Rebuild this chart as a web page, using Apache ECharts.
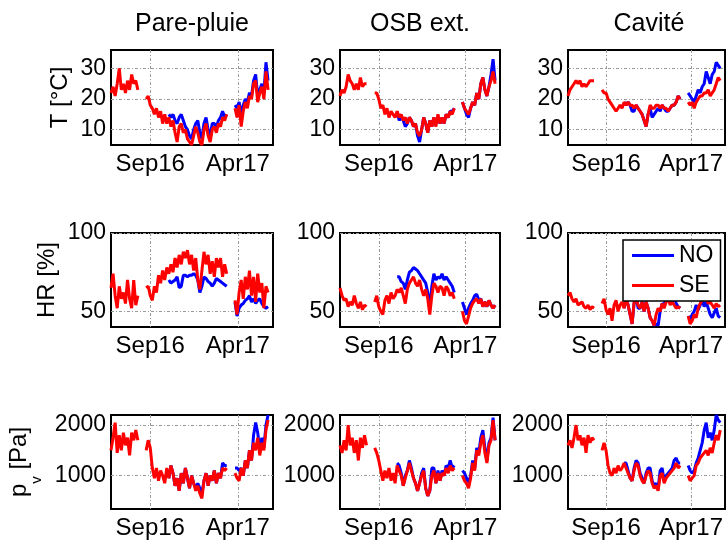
<!DOCTYPE html>
<html>
<head>
<meta charset="utf-8">
<script src="https://cdn.jsdelivr.net/npm/echarts@6/dist/echarts.min.js"></script>
<style>
html,body{margin:0;padding:0;background:#fff;}
#chart{width:726px;height:540px;}
</style>
</head>
<body>
<div id="chart"></div>
<script>
const _ = null;
// samples every 5 days, first one 95 days before 1 Sep 2016
const DAY_START = -95;
const DAY_STEP = 5;
const N_SAMPLES = 78;
const xTickDays = [0, 212];
const xTickLabels = ['Sep16', 'Apr17'];
const columnTitles = ['Pare-pluie', 'OSB ext.', 'Cavité'];
const seriesNames = ['NO', 'SE'];
const yTicksT = [10, 20, 30];
const yTicksHR = [50, 100];
const yTicksPv = [1000, 2000];
const yRangeT = [5, 36];
const yRangeHR = [40, 100];
const yRangePv = [340, 2200];

// ---- Temperature [°C]
const T_PP_SE = [22,24,21,25,30,23,25,22,26,23,28,25,26,23,_,_,_,20,21,18,17,15,17,14,16,12,15,12,14,11,13,9,6,11,12,9,10,7,6,5,8,11,9,6,5,10,12,8,6,10,11,9,12,11,14,13,15,_,_,_,17,14,18,11,16,19,17,21,20,25,26,19,22,24,20,29,23,_];
const T_PP_NO = [_,_,_,_,_,_,_,_,_,_,_,_,_,_,_,_,_,_,_,_,_,_,_,_,_,_,_,_,15,14,15,13,12,14,15,13,11,10,8,7,10,12,13,9,7,12,14,10,8,12,12,11,13,14,16,14,15,_,_,_,18,17,19,15,18,20,19,22,21,26,28,21,23,25,22,32,26,_];
const T_OSB_SE = [21,23,22,24,28,26,25,23,25,23,27,24,25,25,_,_,_,22,22,20,17,18,15,17,14,16,15,14,16,14,15,13,14,12,14,13,11,12,9,8,10,14,12,9,13,11,14,11,15,12,14,12,15,14,16,15,17,_,_,_,19,17,16,15,17,19,18,22,20,25,27,23,21,24,26,29,25,_];
const T_OSB_NO = [_,_,_,_,_,_,_,_,_,_,_,_,_,_,_,_,_,_,_,_,_,_,_,_,_,_,_,_,16,13,14,13,11,12,14,13,11,12,8,6,10,14,12,9,13,11,14,12,14,12,14,12,15,14,16,16,17,_,_,_,19,17,15,14,17,19,18,22,20,25,27,23,21,24,28,33,26,_];
const T_CAV_SE = [21,23,24,25,26,25,26,24,25,24,25,26,26,26,_,_,_,23,22,22,20,19,18,17,16,17,18,17,19,18,19,18,18,17,18,17,16,15,13,11,15,18,17,17,18,18,17,18,17,17,16,17,18,18,19,21,20,_,_,_,19,18,19,17,19,20,21,21,22,22,23,21,22,23,25,27,26,_];
const T_CAV_NO = [_,_,_,_,_,_,_,_,_,_,_,_,_,_,_,_,_,_,_,_,_,_,_,_,_,_,_,_,19,18,19,18,16,16,18,17,16,15,13,11,15,17,14,15,16,17,16,18,17,16,16,17,18,18,19,21,20,_,_,_,22,21,20,19,21,23,22,24,25,29,27,25,28,29,32,31,30,_];

// ---- Relative humidity [%]
const HR_PP_SE = [65,74,60,52,66,58,62,55,70,58,52,70,54,60,_,_,_,65,66,60,57,66,62,73,68,76,70,78,74,80,75,84,78,86,80,88,84,89,80,86,76,84,70,64,76,88,80,86,74,82,72,84,78,84,72,80,74,_,_,_,57,48,62,70,58,72,64,76,60,72,56,74,62,68,52,66,62,_];
const HR_PP_NO = [_,_,_,_,_,_,_,_,_,_,_,_,_,_,_,_,_,_,_,_,_,_,_,_,_,_,_,_,70,68,69,70,72,65,66,73,73,72,73,73,74,73,70,62,66,72,71,69,68,66,68,71,70,69,68,67,66,_,_,_,56,47,52,54,55,57,58,60,56,58,55,57,58,55,53,52,53,_];
const HR_OSB_SE = [65,60,57,58,53,56,54,60,55,52,56,51,54,53,_,_,_,56,60,53,50,48,57,60,55,62,58,60,64,62,65,60,55,64,68,70,72,68,66,70,64,60,64,58,48,60,68,66,62,66,65,60,66,64,60,62,58,_,_,_,50,44,42,47,52,55,57,58,55,58,53,56,53,57,54,52,54,_];
const HR_OSB_NO = [_,_,_,_,_,_,_,_,_,_,_,_,_,_,_,_,_,_,_,_,_,_,_,_,_,_,_,_,72,72,69,68,64,70,75,76,78,77,76,74,72,70,68,62,52,66,74,70,72,71,74,70,72,70,68,66,62,_,_,_,56,52,48,52,55,57,60,61,57,58,53,56,53,57,54,52,54,_];
const HR_CAV_SE = [60,62,58,56,58,54,55,56,53,52,54,51,53,52,_,_,_,55,58,51,48,52,44,54,57,50,54,56,52,58,54,48,42,56,58,54,52,56,50,56,52,46,44,41,48,52,50,55,52,56,58,54,56,54,52,53,52,_,_,_,47,42,44,48,46,52,55,57,60,58,55,56,54,52,55,53,54,_];
const HR_CAV_NO = [_,_,_,_,_,_,_,_,_,_,_,_,_,_,_,_,_,_,_,_,_,_,_,_,_,_,_,_,52,58,54,48,42,55,60,52,52,56,50,56,52,46,44,41,42,41,50,55,54,58,58,57,56,60,55,53,52,_,_,_,47,45,48,50,54,51,54,57,53,56,52,48,46,49,52,47,46,_];

// ---- Vapour pressure [Pa]
const PV_PP_SE = [1500,1750,2050,1450,1800,1500,1850,1600,1750,1400,1850,1700,1900,1700,_,_,_,1500,1700,1550,1150,950,1150,900,1100,1000,850,1150,950,1200,1050,800,950,700,1050,850,1150,950,750,1000,850,700,800,650,550,900,1050,800,1000,900,1100,850,1050,950,1150,1100,1150,_,_,_,1050,950,900,1150,1000,1300,1150,1500,1300,1650,1500,1750,1400,1650,1500,1900,2100,_];
const PV_PP_NO = [_,_,_,_,_,_,_,_,_,_,_,_,_,_,_,_,_,_,_,_,_,_,_,_,_,_,_,_,950,1200,1050,800,950,700,1050,850,1150,950,750,1000,850,750,850,750,650,900,1050,800,1000,900,1100,850,1050,950,1250,1200,1200,_,_,_,1150,1150,1100,1150,1000,1300,1150,1500,1300,1800,2050,1850,1500,1750,1550,2000,2200,_];
const PV_OSB_SE = [1600,1450,1700,1500,2000,1600,1750,1450,1700,1300,1750,1550,1800,1600,_,_,_,1550,1450,1300,1100,900,1100,950,1150,900,1050,850,1200,1100,1000,800,950,1100,1250,1100,950,850,700,850,1000,1100,750,600,700,1000,1100,850,1050,900,1050,1000,1150,1050,1200,1100,1150,_,_,_,1000,900,850,750,950,1250,1100,1500,1400,1650,1800,1450,1250,1600,1700,2100,1700,_];
const PV_OSB_NO = [_,_,_,_,_,_,_,_,_,_,_,_,_,_,_,_,_,_,_,_,_,_,_,_,_,_,_,_,1250,1200,1050,800,1000,1100,1300,1150,950,850,700,850,1050,1150,750,600,700,1150,1150,850,1100,900,1100,1000,1200,1150,1300,1150,1200,_,_,_,1100,1050,950,850,1000,1300,1150,1550,1450,1750,1900,1550,1300,1650,1750,2150,1700,_];
const PV_CAV_SE = [1600,1700,1550,1750,2000,1700,1800,1600,1750,1450,1800,1650,1750,1700,_,_,_,1500,1650,1500,1200,1050,1000,1150,1050,1200,1100,1150,1250,1150,1050,950,900,1100,1250,1200,1000,900,850,1000,1100,1050,850,750,800,700,1000,1050,850,950,1000,1050,1100,1150,1250,1150,1200,_,_,_,1000,900,950,1000,1200,1250,1350,1400,1450,1500,1400,1550,1450,1650,1800,1700,1900,_];
const PV_CAV_NO = [_,_,_,_,_,_,_,_,_,_,_,_,_,_,_,_,_,_,_,_,_,_,_,_,_,_,_,_,1250,1250,1100,950,900,1150,1300,1250,1050,950,850,1050,1150,1150,900,800,850,750,1100,1150,900,1000,1050,1100,1150,1300,1350,1250,1250,_,_,_,1200,1100,1050,1100,1250,1350,1500,1650,1900,2050,1750,1850,1700,1900,2200,2100,2050,_];

// ---------------------------------------------------------------
const sampleDays = Array.from({length: N_SAMPLES}, (v, i) => DAY_START + DAY_STEP * i);
const FONT = 'Liberation Sans, Arial, sans-serif';

const rowsDef = [
  {range: yRangeT, ticks: yTicksT, name: 'T [°C]', gap: 39, data: [[T_PP_NO, T_PP_SE], [T_OSB_NO, T_OSB_SE], [T_CAV_NO, T_CAV_SE]]},
  {range: yRangeHR, ticks: yTicksHR, name: 'HR [%]', gap: 52, data: [[HR_PP_NO, HR_PP_SE], [HR_OSB_NO, HR_OSB_SE], [HR_CAV_NO, HR_CAV_SE]]},
  {range: yRangePv, ticks: yTicksPv, name: '{a|p}{s|v}{a| [Pa]}', gap: 67, data: [[PV_PP_NO, PV_PP_SE], [PV_OSB_NO, PV_OSB_SE], [PV_CAV_NO, PV_CAV_SE]]}
];
const colBoxes = [{left: 111, width: 162}, {left: 340, width: 160}, {left: 568, width: 162}];
const rowBoxes = [{top: 50, height: 95}, {top: 233, height: 94}, {top: 415, height: 94}];
const colors = ['#0000ff', '#ff0000'];

const grid = [], xAxis = [], yAxis = [], series = [], title = [];
const gridLine = {show: true, lineStyle: {color: '#9a9a9a', width: 1, type: [3, 2, 1, 2]}};

rowsDef.forEach((row, r) => {
  colBoxes.forEach((col, c) => {
    const idx = grid.length;
    grid.push({left: col.left, width: col.width, top: rowBoxes[r].top, height: rowBoxes[r].height,
      show: true, borderColor: '#000', borderWidth: 2, backgroundColor: '#fff', containLabel: false});
    xAxis.push({
      gridIndex: idx, type: 'value', min: DAY_START, max: 297,
      axisLine: {show: false},
      axisTick: {show: false, customValues: xTickDays},
      axisLabel: {customValues: xTickDays, margin: 7, fontSize: 24, color: '#000', fontFamily: FONT,
        formatter: v => xTickLabels[xTickDays.indexOf(v)] || ''},
      splitLine: gridLine
    });
    const ya = {
      gridIndex: idx, type: 'value', min: row.range[0], max: row.range[1],
      axisLine: {show: false},
      axisTick: {show: false, customValues: row.ticks},
      axisLabel: {customValues: row.ticks, margin: 5, fontSize: 23, color: '#000', fontFamily: FONT,
        formatter: v => String(v)},
      splitLine: gridLine
    };
    if (c === 0) {
      ya.name = row.name;
      ya.nameLocation = 'middle';
      ya.nameGap = row.gap;
      ya.nameTextStyle = {fontSize: 24, color: '#000', fontFamily: FONT,
        rich: {
          a: {fontSize: 24, lineHeight: 24, color: '#000', fontFamily: FONT},
          s: {fontSize: 15, lineHeight: 49, color: '#000', fontFamily: FONT, verticalAlign: 'bottom'}
        }};
    }
    yAxis.push(ya);
    row.data[c].forEach((vals, s) => {
      series.push({
        name: seriesNames[s], type: 'line', xAxisIndex: idx, yAxisIndex: idx,
        data: vals.map((v, i) => [sampleDays[i], v]),
        showSymbol: false, symbol: 'none', connectNulls: false,
        lineStyle: {width: 3, color: colors[s]}, itemStyle: {color: colors[s]},
        z: 2 + s
      });
    });
  });
});

colBoxes.forEach((col, c) => {
  title.push({text: columnTitles[c], left: col.left + col.width / 2, top: 12, padding: 0, textAlign: 'center',
    textStyle: {fontSize: 25, fontWeight: 'normal', color: '#000', fontFamily: FONT}});
});

const chart = echarts.init(document.getElementById('chart'), null, {renderer: 'canvas'});
chart.setOption({
  animation: false,
  backgroundColor: '#fff',
  title: title,
  grid: grid,
  xAxis: xAxis,
  yAxis: yAxis,
  series: series,
  legend: {
    data: seriesNames, orient: 'vertical', left: 623, top: 240,
    padding: [4, 7, 4, 9], itemWidth: 42, itemHeight: 3, itemGap: 7, icon: 'rect',
    backgroundColor: '#fff', borderColor: '#000', borderWidth: 1.5,
    selectedMode: false, z: 10,
    textStyle: {fontSize: 23, color: '#000', fontFamily: FONT, padding: [0, 0, 0, 0]}
  }
});
</script>
</body>
</html>
